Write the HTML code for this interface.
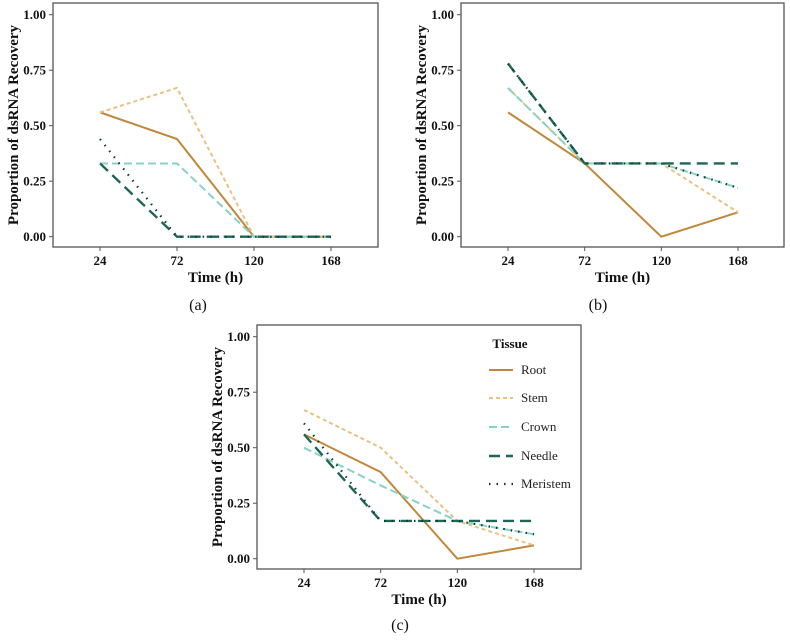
<!DOCTYPE html>
<html><head><meta charset="utf-8">
<style>
html,body{margin:0;padding:0;background:#fff;width:790px;height:640px;overflow:hidden}
text{font-family:"Liberation Serif",serif}
</style></head>
<body>
<svg id="chart" width="790" height="640" viewBox="0 0 790 640" xmlns="http://www.w3.org/2000/svg"></svg>
<script>
const timePoints = [24, 72, 120, 168];
const yTicks = [0, 0.25, 0.5, 0.75, 1.0];
const yTickLabels = ["0.00", "0.25", "0.50", "0.75", "1.00"];
const tissues = ["Root", "Stem", "Crown", "Needle", "Meristem"];
const panelA_Root = [0.56, 0.44, 0, 0];
const panelA_Stem = [0.56, 0.67, 0, 0];
const panelA_Crown = [0.33, 0.33, 0, 0];
const panelA_Needle = [0.33, 0, 0, 0];
const panelA_Meristem = [0.44, 0, 0, 0];
const panelB_Root = [0.56, 0.33, 0, 0.11];
const panelB_Stem = [0.67, 0.33, 0.33, 0.11];
const panelB_Crown = [0.67, 0.33, 0.33, 0.22];
const panelB_Needle = [0.78, 0.33, 0.33, 0.33];
const panelB_Meristem = [0.78, 0.33, 0.33, 0.22];
const panelC_Root = [0.56, 0.39, 0, 0.06];
const panelC_Stem = [0.67, 0.5, 0.17, 0.06];
const panelC_Crown = [0.5, 0.33, 0.17, 0.11];
const panelC_Needle = [0.56, 0.17, 0.17, 0.17];
const panelC_Meristem = [0.61, 0.17, 0.17, 0.11];

const styles = {
  Root:{c:"#c0883a",w:2,d:""},
  Stem:{c:"#e8c282",w:2,d:"4,3"},
  Crown:{c:"#86d3c6",w:2,d:"8,4"},
  Needle:{c:"#1d6656",w:2.4,d:"11,6"},
  Meristem:{c:"#0e3a33",w:2.2,d:"1.5,6"}
};
const NS="http://www.w3.org/2000/svg";
const svg=document.getElementById('chart');
function mk(tag,attrs,parent){const e=document.createElementNS(NS,tag);for(const k in attrs)e.setAttribute(k,attrs[k]);(parent||svg).appendChild(e);return e;}

function panel(id,box,x24,x168,y0,y1,series,label,labelPos){
  const g=mk('g',{});
  
  
  const xs=t=>x24+(t-24)/(168-24)*(x168-x24);
  const ys=v=>y0+(y1-y0)*v;
  const frame=mk('rect',{x:box[0],y:box[1],width:box[2]-box[0],height:box[3]-box[1],fill:'none',stroke:'#555','stroke-width':1.3},g);
  
  
  yTicks.forEach((v,i)=>{
    const y=ys(v);
    mk('line',{x1:box[0]-4,x2:box[0],y1:y,y2:y,stroke:'#555'},g);
    const t=mk('text',{x:box[0]-7,y:y+4.5,'text-anchor':'end','font-size':13,'font-weight':'bold',fill:'#111'},g);
    t.textContent=yTickLabels[i];
    
    
  });
  timePoints.forEach(tp=>{
    const x=xs(tp);
    mk('line',{x1:x,x2:x,y1:box[3],y2:box[3]+4,stroke:'#555'},g);
    const t=mk('text',{x:x,y:box[3]+18,'text-anchor':'middle','font-size':13,'font-weight':'bold',fill:'#111'},g);
    t.textContent=tp;
    
    
  });
  const xt=mk('text',{x:(box[0]+box[2])/2,y:box[3]+35,'text-anchor':'middle','font-size':15,'font-weight':'bold',fill:'#111'},g);
  xt.textContent='Time (h)';
  
  
  const cy=(box[1]+box[3])/2, cx=box[0]-35;
  const yt=mk('text',{x:cx,y:cy,'text-anchor':'middle','font-size':15,'font-weight':'bold',fill:'#111',transform:`rotate(-90 ${cx} ${cy})`},g);
  yt.textContent='Proportion of dsRNA Recovery';
  
  
  tissues.forEach((name,i)=>{
    const vals=series[i], s=styles[name];
    const pts=vals.map((v,j)=>xs(timePoints[j])+','+ys(v)).join(' ');
    const pl=mk('polyline',{points:pts,fill:'none',stroke:s.c,'stroke-width':s.w,'stroke-dasharray':s.d},g);
    
    
  });
  const lb=mk('text',{x:labelPos[0],y:labelPos[1],'text-anchor':'middle','font-size':16,fill:'#111'},g);
  lb.textContent=label;
  
  
}

panel('a',[53,3,378,247],100,331,236.7,14.7,[panelA_Root,panelA_Stem,panelA_Crown,panelA_Needle,panelA_Meristem],'(a)',[198,310]);
panel('b',[461,3,784,247],508,738,236.7,14.7,[panelB_Root,panelB_Stem,panelB_Crown,panelB_Needle,panelB_Meristem],'(b)',[598,310]);
panel('c',[257,325,581,569],304,534,558.7,336.7,[panelC_Root,panelC_Stem,panelC_Crown,panelC_Needle,panelC_Meristem],'(c)',[400,630]);

const lg=mk('g',{});


const lt=mk('text',{x:510,y:348,'text-anchor':'middle','font-size':13,'font-weight':'bold',fill:'#111'},lg);
lt.textContent='Tissue';


const legendY=[370,398,427,456,484];
tissues.forEach((name,i)=>{
  const s=styles[name];
  const eg=mk('g',{},lg);
  
  
  mk('line',{x1:489,x2:513,y1:legendY[i],y2:legendY[i],stroke:s.c,'stroke-width':s.w,'stroke-dasharray':s.d},eg);
  const t=mk('text',{x:521,y:legendY[i]+4,'font-size':13,fill:'#222'},eg);
  t.textContent=name;
});
</script>
</body></html>
